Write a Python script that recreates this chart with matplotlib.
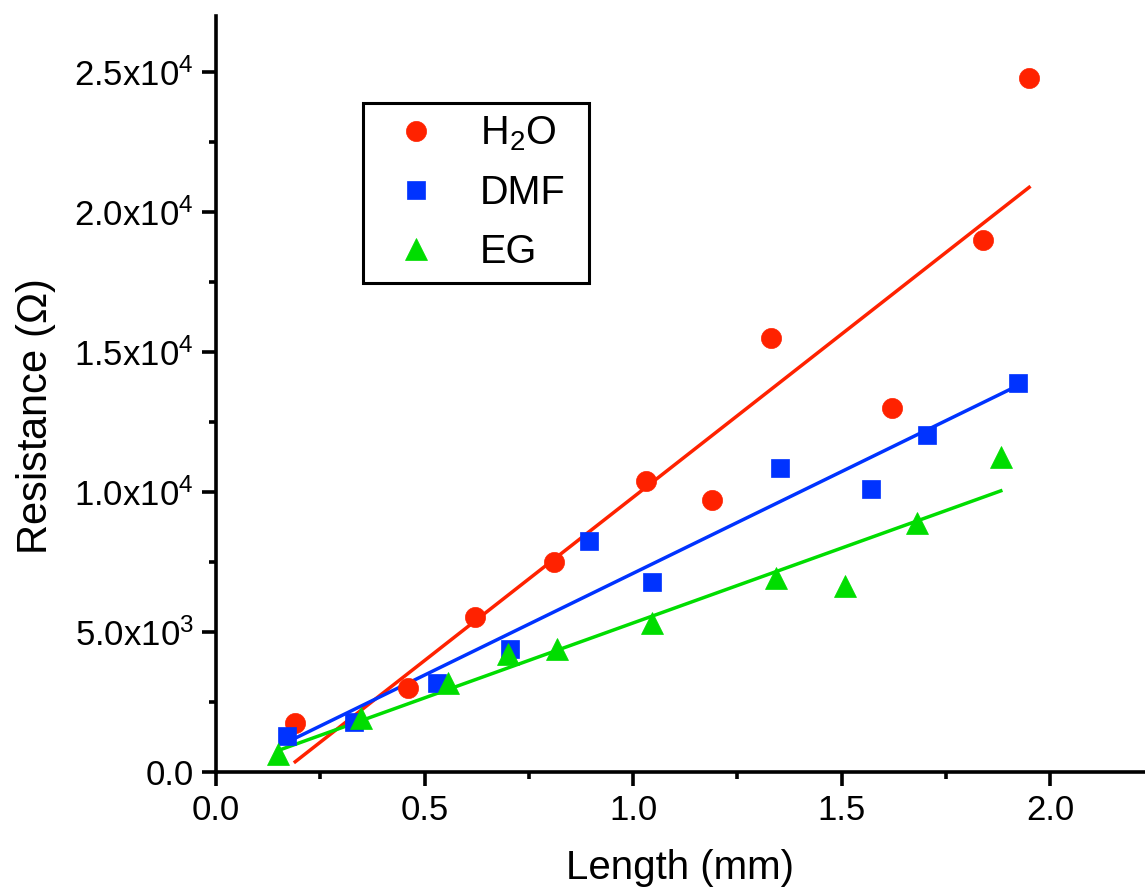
import numpy as np
import matplotlib
matplotlib.use("Agg")
import matplotlib.pyplot as plt
from matplotlib.ticker import MultipleLocator, FuncFormatter

plt.rcParams['font.family'] = ['Liberation Sans', 'DejaVu Sans']
plt.rcParams['mathtext.fontset'] = 'custom'
plt.rcParams['mathtext.rm'] = 'Liberation Sans'
plt.rcParams['mathtext.it'] = 'Liberation Sans:italic'
plt.rcParams['mathtext.bf'] = 'Liberation Sans:bold'

# data: length in mm, resistance in ohm
h2o_x = [0.19, 0.46, 0.62, 0.81, 1.03, 1.19, 1.33, 1.62, 1.84, 1.95]
h2o_y = [1.75e3, 3.0e3, 5.55e3, 7.5e3, 1.04e4, 9.7e3, 1.55e4, 1.3e4, 1.9e4, 2.48e4]

dmf_x = [0.17, 0.33, 0.53, 0.705, 0.894, 1.046, 1.353, 1.571, 1.705, 1.923]
dmf_y = [1.29e3, 1.79e3, 3.18e3, 4.39e3, 8.25e3, 6.79e3, 1.086e4, 1.011e4, 1.204e4, 1.389e4]

eg_x = [0.149, 0.348, 0.556, 0.70, 0.818, 1.046, 1.343, 1.508, 1.681, 1.882]
eg_y = [6.4e2, 1.93e3, 3.18e3, 4.21e3, 4.39e3, 5.32e3, 6.93e3, 6.64e3, 8.89e3, 1.125e4]

labels = ['H$_\\mathregular{2}$O', 'DMF', 'EG']
colors = ['#ff2200', '#0033ff', '#00dd00']
markers = ['o', 's', '^']
msizes = [14.5, 13, 16.5]

fig = plt.figure(figsize=(11.45, 8.89), dpi=100)
ax = fig.add_axes([216/1145, 117/889, 929/1145, 756/889])

series = [(h2o_x, h2o_y), (dmf_x, dmf_y), (eg_x, eg_y)]
for (xs, ys), lab, c, m, ms in zip(series, labels, colors, markers, msizes):
    xs = np.array(xs)
    ys = np.array(ys)
    # linear fit across the data range
    k, b = np.polyfit(xs, ys, 1)
    xf = np.array([xs.min(), xs.max()])
    ax.plot(xf, k*xf + b, '-', color=c, lw=2.5, zorder=2)
    ax.plot(xs, ys, m, color=c, ms=ms, mec=c, mew=0.5, ls='none', label=lab, zorder=3)

ax.set_xlim(0, 929/417)
ax.set_ylim(0, 27000)

ax.spines['top'].set_visible(False)
ax.spines['right'].set_visible(False)
for s in ['left', 'bottom']:
    ax.spines[s].set_linewidth(2.6)

ax.xaxis.set_major_locator(MultipleLocator(0.5))
ax.xaxis.set_minor_locator(MultipleLocator(0.25))
ax.yaxis.set_major_locator(MultipleLocator(5000))
ax.yaxis.set_minor_locator(MultipleLocator(2500))
ax.xaxis.set_major_formatter(FuncFormatter(lambda v, p: '%.1f' % v))

def yfmt(v, pos):
    if v <= 0:
        return '0.0'
    e = int(np.floor(np.log10(v)))
    return r'$\mathregular{%.1fx10^{%d}}$' % (v / 10**e, e)

ax.yaxis.set_major_formatter(FuncFormatter(yfmt))

ax.tick_params(which='major', direction='out', length=10, width=2.6, labelsize=25, pad=6)
ax.tick_params(which='minor', direction='out', length=5, width=2.6)

ax.set_xlabel('Length (mm)', fontsize=29, labelpad=16)
ax.set_ylabel('Resistance ($\\mathregular{\\Omega}$)', fontsize=30, labelpad=12)
ax.yaxis.label.set_y(0.47)

# legend box stretched to the reference's frame width
leg = ax.legend(loc='upper left',
                bbox_to_anchor=(363/1145, 1 - 281/889, 226/1145, 178/889),
                bbox_transform=fig.transFigure, borderaxespad=0, mode='expand',
                fontsize=28.5, frameon=True, fancybox=False, framealpha=1,
                edgecolor='black', handlelength=2.1, handletextpad=0.55,
                labelspacing=0.52, borderpad=0.3)
leg.get_frame().set_linewidth(2.2)

fig.savefig('out.png', dpi=100)
